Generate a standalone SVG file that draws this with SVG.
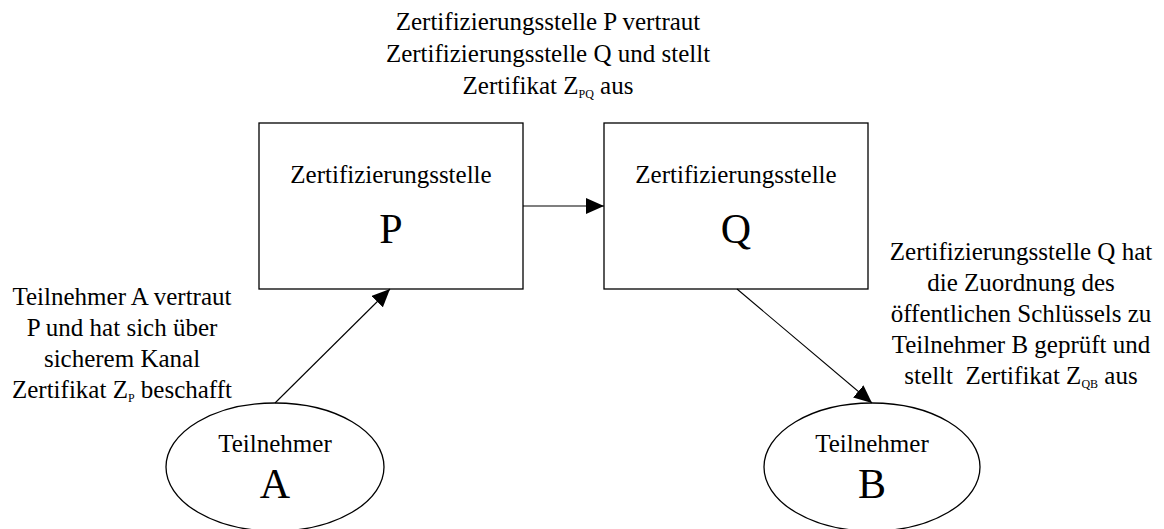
<svg xmlns="http://www.w3.org/2000/svg" width="1164" height="529" viewBox="0 0 1164 529">
  <defs>
    <marker id="arrow" viewBox="0 0 18 16" refX="18" refY="8" markerWidth="18" markerHeight="16" markerUnits="userSpaceOnUse" orient="auto">
      <path d="M0,0 L18,8 L0,16 Z" fill="#000"/>
    </marker>
    <style>
      text { font-family: "Liberation Serif", "Times New Roman", serif; fill: #000; text-anchor: middle; }
      .lbl { font-size: 25px; }
      .big { font-size: 42px; }
      .sub { font-size: 12px; }
      .node { fill: #fff; stroke: #000; stroke-width: 1.3; }
      .edge { fill: none; stroke: #000; stroke-width: 1.1; marker-end: url(#arrow); }
    </style>
  </defs>
  <rect width="1164" height="529" fill="#fff"/>

  <!-- certification authority P -->
  <g id="node-p">
    <rect class="node" x="259" y="123" width="264" height="166"/>
    <text class="lbl" x="391" y="183">Zertifizierungsstelle</text>
    <text class="big" x="391" y="243">P</text>
  </g>

  <!-- certification authority Q -->
  <g id="node-q">
    <rect class="node" x="604" y="123" width="264" height="166"/>
    <text class="lbl" x="736" y="183">Zertifizierungsstelle</text>
    <text class="big" x="736" y="243">Q</text>
  </g>

  <!-- participant A -->
  <g id="node-a">
    <ellipse class="node" cx="275" cy="467" rx="109" ry="64"/>
    <text class="lbl" x="275" y="452">Teilnehmer</text>
    <text class="big" x="275" y="498">A</text>
  </g>

  <!-- participant B -->
  <g id="node-b">
    <ellipse class="node" cx="872" cy="467" rx="108" ry="64"/>
    <text class="lbl" x="872" y="452">Teilnehmer</text>
    <text class="big" x="872" y="498">B</text>
  </g>

  <!-- trust relations -->
  <g id="connectors">
    <line class="edge" x1="523" y1="206" x2="604" y2="206"/>
    <line class="edge" x1="275" y1="403" x2="390" y2="289"/>
    <line class="edge" x1="737" y1="289" x2="872" y2="403"/>
  </g>

  <!-- annotations -->
  <g id="note-pq" class="lbl">
    <text class="lbl" x="548" y="30">Zertifizierungsstelle P vertraut</text>
    <text class="lbl" x="548" y="62">Zertifizierungsstelle Q und stellt</text>
    <text class="lbl" x="548" y="94">Zertifikat Z<tspan class="sub" dy="4">PQ</tspan><tspan dy="-4"> aus</tspan></text>
  </g>

  <g id="note-a">
    <text class="lbl" x="122" y="305">Teilnehmer A vertraut</text>
    <text class="lbl" x="122" y="336">P und hat sich über</text>
    <text class="lbl" x="122" y="367">sicherem Kanal</text>
    <text class="lbl" x="122" y="398">Zertifikat Z<tspan class="sub" dy="4">P</tspan><tspan dy="-4"> beschafft</tspan></text>
  </g>

  <g id="note-b">
    <text class="lbl" x="1021" y="260">Zertifizierungsstelle Q hat</text>
    <text class="lbl" x="1021" y="291">die Zuordnung des</text>
    <text class="lbl" x="1021" y="322">öffentlichen Schlüssels zu</text>
    <text class="lbl" x="1021" y="353">Teilnehmer B geprüft und</text>
    <text class="lbl" x="1021" y="384" xml:space="preserve">stellt  Zertifikat Z<tspan class="sub" dy="4">QB</tspan><tspan dy="-4"> aus</tspan></text>
  </g>
</svg>
